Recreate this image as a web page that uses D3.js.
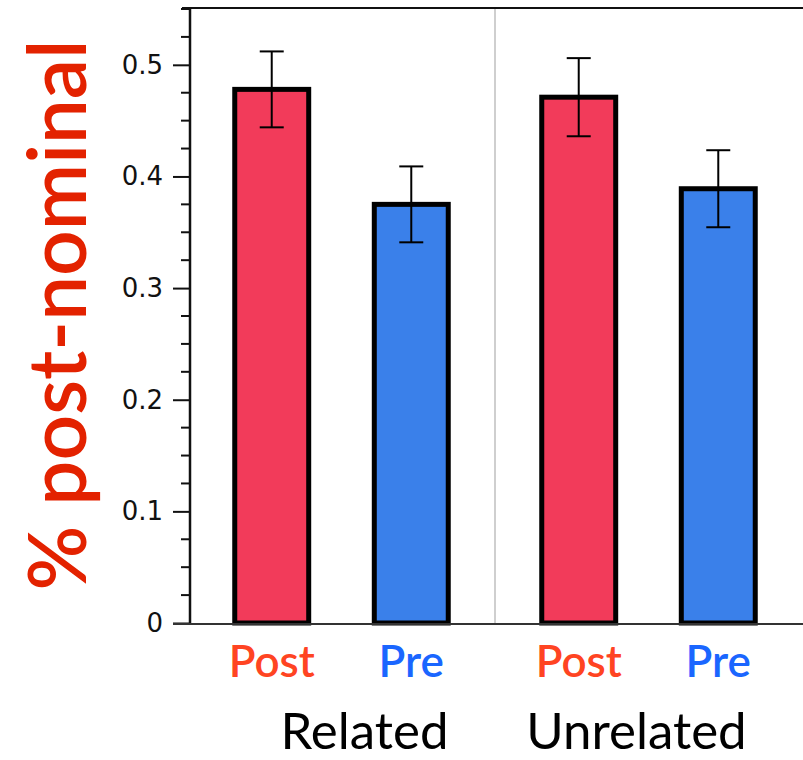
<!DOCTYPE html>
<html>
<head>
<meta charset="utf-8">
<script src="https://cdn.jsdelivr.net/npm/d3@7"></script>
<style>
  body { margin: 0; background: #fff; }
  svg { display: block; }
</style>
</head>
<body>
<div id="chart"></div>
<script>
// data
const groups = ["Related", "Unrelated"];
const conditions = ["Post", "Pre"];
const means = {
  Related:   [0.478, 0.375],
  Unrelated: [0.471, 0.389]
};
const errors = {
  Related:   [0.034, 0.034],
  Unrelated: [0.035, 0.0345]
};
const yTicks = [0, 0.1, 0.2, 0.3, 0.4, 0.5];

const W = 803, H = 760;
const axisX = 190, baseY = 623, topY = 9;

const svg = d3.select("#chart").append("svg")
  .attr("width", W)
  .attr("height", H);

// scales
const y = d3.scaleLinear().domain([0, 0.55]).range([baseY, topY]);
const xGroup = d3.scaleBand().domain(groups).range([188, 802]).padding(0);
const xCond = d3.scaleBand().domain(conditions)
  .range([0, xGroup.bandwidth()])
  .paddingInner(0.47)
  .paddingOuter(0.335);

const fillColor = {Post: "#f23b5a", Pre: "#3a80ea"};
const labelColor = {Post: "#ff4422", Pre: "#1a66ff"};

// divider between groups
svg.append("line")
  .attr("x1", xGroup("Unrelated")).attr("x2", xGroup("Unrelated"))
  .attr("y1", topY).attr("y2", baseY)
  .attr("stroke", "#cfcfcf")
  .attr("stroke-width", 2);

// frame top line
svg.append("line")
  .attr("x1", 182).attr("x2", W)
  .attr("y1", y(0.55) - 1).attr("y2", y(0.55) - 1)
  .attr("stroke", "#111")
  .attr("stroke-width", 2);

// bars
const rows = [];
groups.forEach(g => conditions.forEach((c, i) => rows.push({group: g, cond: c, v: means[g][i], e: errors[g][i]})));

const barG = svg.append("g");
barG.selectAll("rect")
  .data(rows)
  .join("rect")
  .attr("x", d => xGroup(d.group) + xCond(d.cond))
  .attr("width", xCond.bandwidth())
  .attr("y", d => y(d.v))
  .attr("height", d => y(0) - y(d.v))
  .attr("fill", d => fillColor[d.cond])
  .attr("stroke", "#000")
  .attr("stroke-width", 5);

// error bars
const cx = d => xGroup(d.group) + xCond(d.cond) + xCond.bandwidth() / 2;
const errG = barG.selectAll(".err").data(rows).join("g").attr("class", "err")
  .attr("stroke", "#000").attr("stroke-width", 2);
errG.append("line")
  .attr("x1", cx).attr("x2", cx)
  .attr("y1", d => y(d.v + d.e)).attr("y2", d => y(d.v - d.e));
errG.append("line")
  .attr("x1", d => cx(d) - 12).attr("x2", d => cx(d) + 12)
  .attr("y1", d => y(d.v + d.e)).attr("y2", d => y(d.v + d.e));
errG.append("line")
  .attr("x1", d => cx(d) - 12).attr("x2", d => cx(d) + 12)
  .attr("y1", d => y(d.v - d.e)).attr("y2", d => y(d.v - d.e));

// y axis
const yAxis = d3.axisLeft(y)
  .tickValues(yTicks)
  .tickSize(17)
  .tickPadding(10)
  .tickFormat(d => d === 0 ? "0" : d3.format(".1f")(d));
const yG = svg.append("g")
  .attr("transform", `translate(${axisX},0)`)
  .call(yAxis);
yG.select(".domain").remove();
yG.selectAll(".tick line").attr("stroke", "#111").attr("stroke-width", 2);
yG.selectAll(".tick text")
  .attr("fill", "#111")
  .style("font-family", "'DejaVu Sans', sans-serif")
  .style("font-size", "26px");

// minor ticks
const minor = d3.range(0, 0.55001, 0.025).filter(t => !yTicks.some(m => Math.abs(m - t) < 1e-6));
svg.append("g").selectAll("line")
  .data(minor)
  .join("line")
  .attr("x1", axisX - 9).attr("x2", axisX)
  .attr("y1", d => y(d)).attr("y2", d => y(d))
  .attr("stroke", "#111").attr("stroke-width", 2);

// axis lines
svg.append("line")
  .attr("x1", axisX).attr("x2", axisX)
  .attr("y1", topY - 2).attr("y2", baseY + 1)
  .attr("stroke", "#111").attr("stroke-width", 2.5);
svg.append("line")
  .attr("x1", axisX - 17).attr("x2", W)
  .attr("y1", baseY + 1).attr("y2", baseY + 1)
  .attr("stroke", "#333").attr("stroke-width", 2);

// condition labels
svg.append("g").selectAll("text")
  .data(rows)
  .join("text")
  .attr("x", cx)
  .attr("y", 677)
  .attr("text-anchor", "middle")
  .attr("fill", d => labelColor[d.cond])
  .style("font-family", "Lato, 'Noto Sans', sans-serif")
  .style("font-weight", "600")
  .style("font-size", "44px")
  .text(d => d.cond);

// group labels
const groupShift = {Related: 23, Unrelated: -12};
svg.append("g").selectAll("text")
  .data(groups)
  .join("text")
  .attr("x", d => xGroup(d) + xGroup.bandwidth() / 2 + groupShift[d])
  .attr("y", 749)
  .attr("text-anchor", "middle")
  .attr("fill", "#000")
  .style("font-family", "Lato, 'Noto Sans', sans-serif")
  .style("font-size", "51px")
  .text(d => d);

// y title
svg.append("text")
  .attr("transform", "translate(86,315) rotate(-90)")
  .attr("text-anchor", "middle")
  .attr("fill", "#e32200")
  .style("font-family", "Lato, 'Noto Sans', sans-serif")
  .style("font-weight", "600")
  .style("font-size", "80px")
  .text("% post-nominal");
</script>
</body>
</html>
